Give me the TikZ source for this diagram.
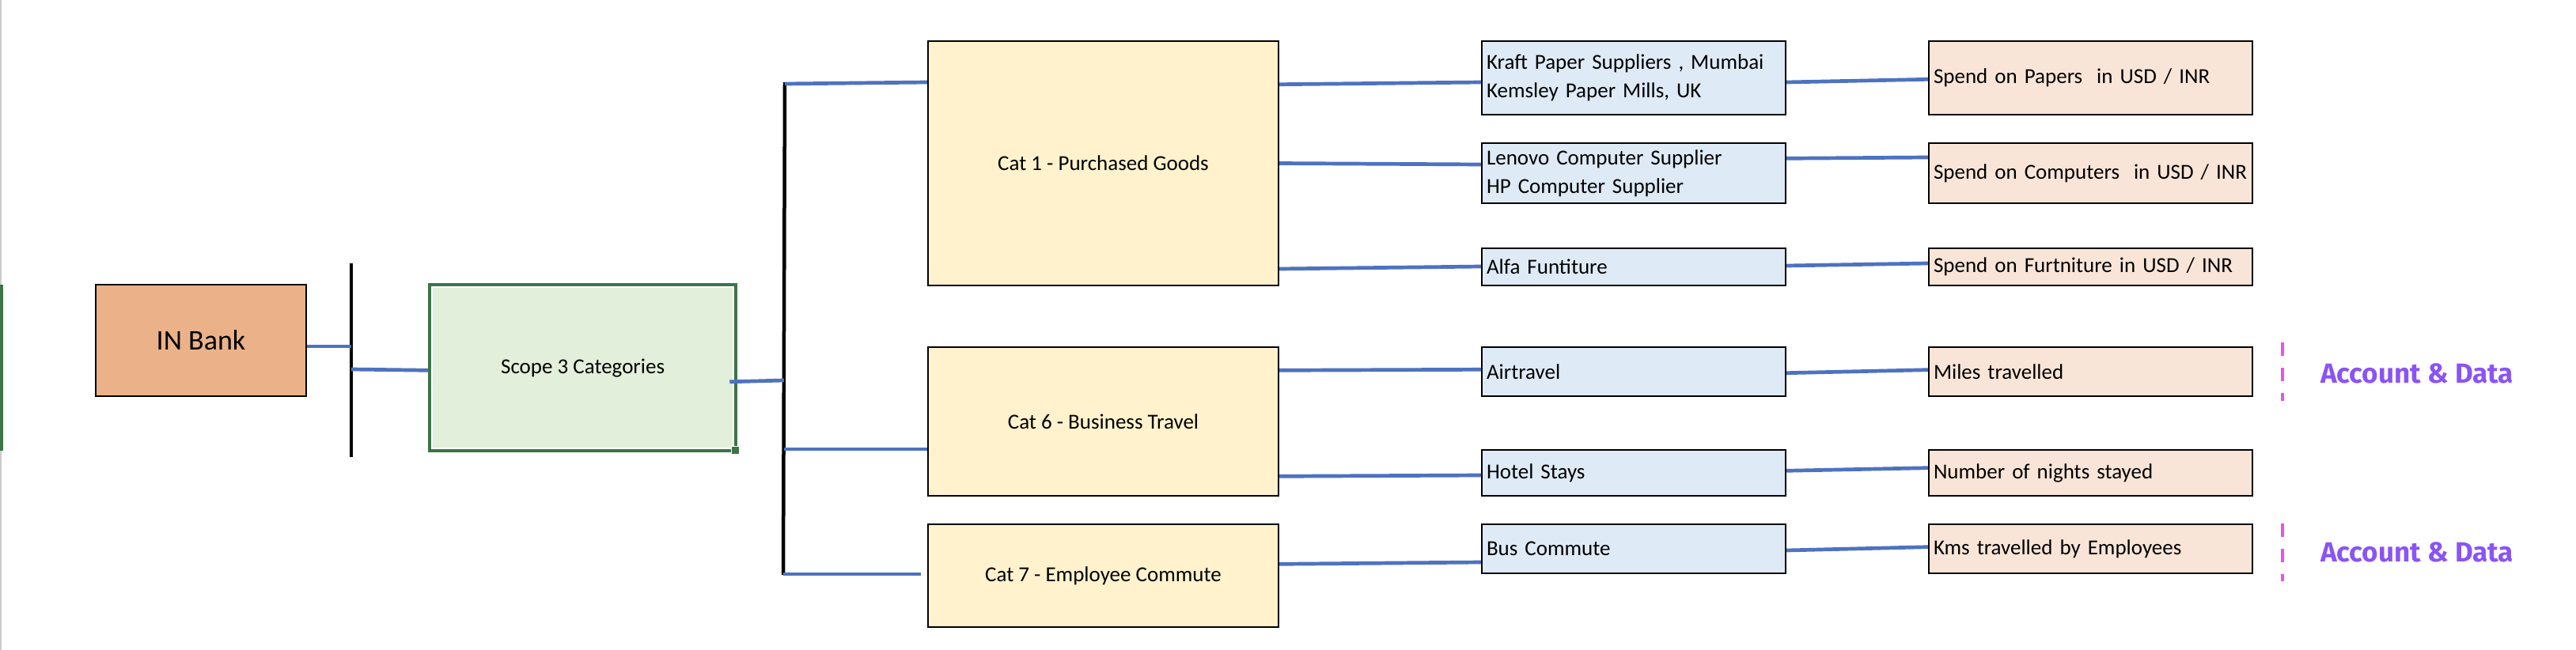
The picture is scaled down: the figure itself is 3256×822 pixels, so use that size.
\documentclass[tikz,border=0pt]{standalone}
\usepackage{fontspec}
\setmainfont{Carlito}
\newfontfamily\tagfont{Fira Sans}
\usetikzlibrary{calc}
\definecolor{bankfill}{RGB}{235,178,138}
\definecolor{scopefill}{RGB}{226,239,218}
\definecolor{scopeline}{RGB}{59,117,72}
\definecolor{catfill}{RGB}{255,242,204}
\definecolor{supfill}{RGB}{222,234,246}
\definecolor{spendfill}{RGB}{249,229,215}
\definecolor{linkblue}{RGB}{78,114,192}
\definecolor{tagpink}{RGB}{234,82,234}
\definecolor{tagviolet}{RGB}{138,84,244}

\begin{document}
\begin{tikzpicture}[x=1pt,y=-1pt,
		plainbox/.style={draw=black, line width=2.2pt, inner sep=0pt, font=\fontsize{27}{36}\selectfont},
		catbox/.style={plainbox, fill=catfill, minimum width=443pt},
		supbox/.style={plainbox, fill=supfill, align=left, inner xsep=6pt, text width=372pt, minimum width=384pt},
		spendbox/.style={plainbox, fill=spendfill, align=left, inner xsep=6pt, text width=397pt, minimum width=409pt},
		link/.style={draw=linkblue, line width=4.7pt},
		railline/.style={draw=black, line width=4.5pt},
		acctdash/.style={draw=tagpink, line width=4pt, dash pattern=on 17pt off 15pt},
		acct/.style={text=tagviolet, font=\tagfont\bfseries\fontsize{35}{40}\selectfont}]
				%%%%% frame %%%%%
				\useasboundingbox (0,0) rectangle (3256,822);
				\draw[line width=1.5pt, black!20] (0.75,0) -- (0.75,822);
				\fill[scopeline] (0,360) rectangle (3.5,570);

				\def\xcat{1394.5}
				\def\xsup{2065}
				\def\xspend{2642.5}

				\node[plainbox, fill=bankfill, minimum width=266pt, minimum height=141pt, font=\fontsize{36}{44}\selectfont] (bank) at (254,430.5) {IN Bank};

				\node[plainbox, fill=scopefill, draw=scopeline, line width=4.3pt, minimum width=387pt, minimum height=210pt] (scope) at (736.6,465.3) {Scope 3 Categories};
				\draw[white, line width=2pt] ($(scope.south west)+(5.3,-5.3)$) rectangle ($(scope.north east)+(-5.3,5.3)$);
				\node[draw=white, line width=1.5pt, fill=scopeline, inner sep=0pt, minimum size=10pt] (grip) at ($(scope.south east)+(-3,-3)$) {};

				\node[catbox, minimum height=309pt] (cat1) at (\xcat,206.5) {Cat 1 - Purchased Goods};
				\node[catbox, minimum height=188pt] (cat6) at (\xcat,533) {Cat 6 - Business Travel};
				\node[catbox, minimum height=130pt] (cat7) at (\xcat,728) {Cat 7 - Employee Commute};

				\node[supbox, minimum height=93pt] (sup1) at (\xsup,98.5) {Kraft Paper Suppliers , Mumbai\\Kemsley Paper Mills, UK};
				\node[supbox, minimum height=76pt] (sup2) at (\xsup,219) {Lenovo Computer Supplier\\HP Computer Supplier};
				\node[supbox, minimum height=47pt] (sup3) at (\xsup,337.5) {Alfa Funtiture};
				\node[supbox, minimum height=62pt] (air) at (\xsup,470) {Airtravel};
				\node[supbox, minimum height=58pt] (hotel) at (\xsup,598) {Hotel Stays};
				\node[supbox, minimum height=62pt] (bus) at (\xsup,694) {Bus Commute};

				\node[spendbox, minimum height=93pt] (spend1) at (\xspend,98.5) {Spend on Papers\ \ in USD / INR};
				\node[spendbox, minimum height=76pt] (spend2) at (\xspend,219) {Spend on Computers\ \ in USD / INR};
				\node[spendbox, minimum height=47pt] (spend3) at (\xspend,337.5) {Spend on Furtniture in USD / INR};
				\node[spendbox, minimum height=62pt] (miles) at (\xspend,470) {Miles travelled};
				\node[spendbox, minimum height=58pt] (nights) at (\xspend,598) {Number of nights stayed};
				\node[spendbox, minimum height=62pt] (kms) at (\xspend,694) {Kms travelled by Employees};

				%%%%% rails %%%%%
				\coordinate (lrail top) at (444,333);
				\coordinate (lrail bot) at (444,578);
				\coordinate (lr1) at (444,438);
				\coordinate (lr2) at (444,467);
				\coordinate (rrail top) at (992,104);
				\coordinate (rrail bot) at (990,727);
				\coordinate (rr0) at (991,481);
				\coordinate (rr1) at (992,106);
				\coordinate (rr2) at (991,568);
				\coordinate (rr3) at (990,726);
				\draw[railline] (lrail top) -- (lrail bot);
				\draw[railline] (rrail top) -- (rrail bot);

				\draw[link] ([yshift=-7.5pt]bank.east) -- (lr1);
				\draw[link] (lr2) -- ([yshift=-3pt]scope.west);
				\draw[link] ([xshift=-10pt,yshift=-17.5pt]scope.east) -- (rr0);
				\draw[link] (rr1) -- ([yshift=102.5pt]cat1.west);
				\draw[link] (rr2) -- ([yshift=-35pt]cat6.west);
				\draw[link] (rr3) -- ([xshift=-8pt,yshift=2pt]cat7.west);

				\draw[link] ([yshift=99.8pt]cat1.east) -- ([yshift=-5.5pt]sup1.west);
				\draw[link] (cat1.east) -- ([yshift=11pt]sup2.west);
				\draw[link] ([yshift=-133.5pt]cat1.east) -- ([yshift=0.5pt]sup3.west);
				\draw[link] ([yshift=64.7pt]cat6.east) -- ([yshift=2.7pt]air.west);
				\draw[link] ([yshift=-69.3pt]cat6.east) -- ([yshift=-3pt]hotel.west);
				\draw[link] ([yshift=14.7pt]cat7.east) -- ([yshift=-17pt]bus.west);

				\draw[link] ([yshift=-5.5pt]sup1.east) -- ([yshift=-1.8pt]spend1.west);
				\draw[link] ([yshift=18.7pt]sup2.east) -- ([yshift=20pt]spend2.west);
				\draw[link] ([yshift=1.5pt]sup3.east) -- ([yshift=4.5pt]spend3.west);
				\draw[link] ([yshift=-1.7pt]air.east) -- ([yshift=2.3pt]miles.west);
				\draw[link] ([yshift=2.7pt]hotel.east) -- ([yshift=6.3pt]nights.west);
				\draw[link] ([yshift=-2pt]bus.east) -- ([yshift=2.3pt]kms.west);

				%%%%% tags %%%%%
				\coordinate (tag1 top) at (2885,433);
				\coordinate (tag1 bot) at (2885,507);
				\coordinate (tag2 top) at (2885,662);
				\coordinate (tag2 bot) at (2885,735);
				\draw[acctdash] (tag1 top) -- (tag1 bot);
				\draw[acctdash] (tag2 top) -- (tag2 bot);
				\node[acct] (acct1) at (3055,472) {Account \& Data};
				\node[acct] (acct2) at (3055,698) {Account \& Data};
\end{tikzpicture}
\end{document}
